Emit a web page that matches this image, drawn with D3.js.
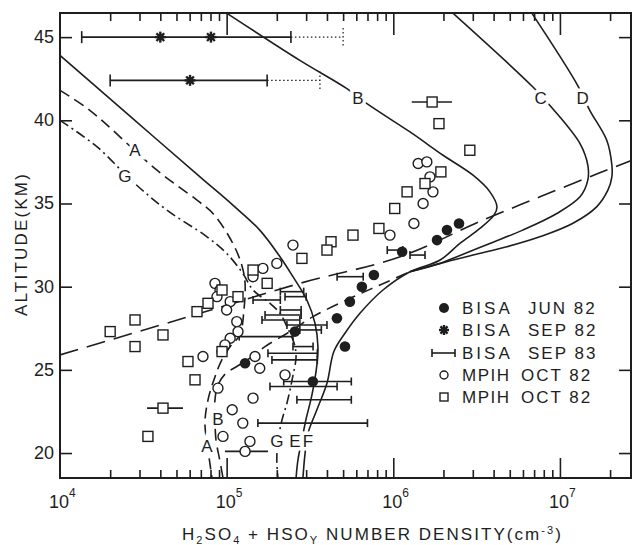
<!DOCTYPE html>
<html>
<head>
<meta charset="utf-8">
<script src="https://cdn.jsdelivr.net/npm/d3@7"></script>
<style>
body { margin: 0; background: #fff; }
svg text { font-family: "Liberation Sans", Arial, sans-serif; fill: #1e1e1e; }
</style>
</head>
<body>
<script>
// model profiles: [number density cm-3, altitude km]
var curveE = [[1e4,43.9],[2.63e4,40.25],[6.92e4,36.6],[1.09e5,34.9],[1.58e5,33.4],[2.09e5,31.8],
              [2.5e5,30.6],[3.03e5,29.2],[3.39e5,27.8],[3.53e5,26.4],[3.48e5,25.3],[3.25e5,23.5],
              [2.99e5,22.0],[2.83e5,20.8],[2.68e5,19.6],[2.61e5,18.5]];
var curveF = [[1.26e6,30.9],[8.67e5,29.8],[6.31e5,28.4],[5.13e5,27.2],[4.4e5,26.1],[4.0e5,24.2],
              [3.48e5,22.6],[3.08e5,21.2],[2.95e5,19.9],[2.87e5,18.5]];
var curveB = [[1.0e5,46.44],[2.75e5,43.6],[5.27e5,41.9],[6.95e5,41.0],[1.26e6,39.3],[1.99e6,37.9],
              [3.01e6,36.7],[3.8e6,35.7],[4.19e6,34.8],[4.02e6,34.3],[3.31e6,33.5],[2.51e6,32.6],
              [1.91e6,31.6]];
var curveC = [[2.28e6,46.44],[6.89e6,42.0],[9.06e6,40.7],[1.32e7,38.6],[1.47e7,37.3],[1.47e7,36.4],
              [1.32e7,35.4],[9.58e6,34.4],[5.98e6,33.4],[3.8e6,32.6],[2.41e6,31.8],[1.91e6,31.4]];
var curveD = [[6.78e6,46.44],[1.26e7,42.2],[1.51e7,40.6],[1.91e7,38.8],[2.05e7,37.3],[2.05e7,36.6],
              [1.94e7,35.8],[1.66e7,34.8],[1.19e7,33.8],[7.57e6,33.0],[4.8e6,32.4],[3.01e6,31.9],
              [1.91e6,31.4]];
var curveA = [[1e4,41.8],[1.51e4,40.6],[3.82e4,37.0],[6.64e4,35.2],[8.28e4,34.4],[1.09e5,32.6],
              [1.24e5,31.2],[1.29e5,30.2],[1.27e5,28.6],[1.2e5,27.1],[1.05e5,26.4],[9.25e4,25.5],
              [8.39e4,24.4],[7.73e4,23.2],[7.41e4,21.8],[7.73e4,20.2],[8.17e4,18.5]];
var curveG = [[1e4,40.0],[1.67e4,38.4],[2.74e4,36.3],[4.38e4,34.6],[7.62e4,33.0],[1.0e5,32.0],
              [1.25e5,30.8],[1.44e5,29.8],[1.82e5,29.0],[2.09e5,28.4],[2.3e5,27.6],[2.54e5,26.6],
              [2.61e5,25.8],[2.47e5,24.4],[2.3e5,23.0],[2.15e5,22.0],[2.03e5,20.7],[2.0e5,19.6],[2.03e5,18.5]];
var dashUpper = [[1e4,25.9],[6.92e4,28.4],[2.75e5,30.2],[1.1e6,31.8],[3.45e6,34.0],[7.59e6,35.4],
                 [1.69e7,36.8],[2.7e7,37.6]];
var dashLower = [[9.51e4,18.5],[9.12e4,19.5],[8.63e4,20.8],[8.51e4,22.0],[8.51e4,23.2],[8.87e4,24.1],
                 [9.91e4,24.8],[1.15e5,25.2],[1.38e5,25.7],[1.7e5,26.4],[2.4e5,27.3],[3.3e5,28.2],
                 [5.5e5,29.3],[8.32e5,30.1],[1.26e6,30.9]];

var curveLabels = [["A",2.82e4,38.2],["G",2.45e4,36.6],["B",6.14e5,41.3],["C",7.67e6,41.3],["D",1.37e7,41.3],
                   ["A",7.62e4,20.4],["B",8.87e4,22.0],["G",2.0e5,20.7],["E",2.57e5,20.7],["F",3.08e5,20.7]];

// measurements
var bisaJun82 = [[1.29e5,25.4],[2.57e5,27.3],[3.29e5,24.3],[5.13e5,26.4],[4.59e5,28.1],[5.49e5,29.1],
                 [6.48e5,30.0],[7.65e5,30.7],[1.13e6,32.1],[1.83e6,32.8],[2.1e6,33.4],[2.48e6,33.8]];
// [altitude, value, low, high, dotted upper limit]
var bisaSep82 = [[45.0,4.0e4,1.35e4,2.43e5,5.0e5],[45.0,8.05e4,null,null,null],[42.4,6.03e4,2.0e4,1.75e5,3.63e5]];
// [altitude, low, high]
var bisaSep83 = [[32.2,9.2e5,1.14e6],[31.9,1.26e6,1.55e6],[30.6,4.6e5,6.6e5],[29.7,2.1e5,2.9e5],
                 [29.4,2.24e5,3.0e5],[29.2,1.44e5,2.1e5],[28.6,2.1e5,2.8e5],[28.3,1.7e5,2.8e5],
                 [28.0,1.63e5,2.75e5],[27.7,2.3e5,4.0e5],[27.4,2.75e5,3.7e5],[27.0,1.19e5,2.5e5],
                 [26.4,2.5e5,3.3e5],[26.0,1.77e5,3.5e5],[25.6,1.87e5,3.5e5],[24.3,2.2e5,5.6e5],
                 [24.0,1.82e5,4.6e5],[23.2,2.64e5,5.6e5],[21.8,1.54e5,7.0e5]];
var mpihCircles = [[1.41e6,37.4],[1.59e6,37.5],[1.66e6,36.6],[1.73e6,35.7],[1.51e6,35.0],[1.33e6,33.8],
                   [9.55e5,33.1],[2.5e5,32.5],[2.0e5,31.4],[1.65e5,31.1],[1.44e5,30.6],[8.51e4,30.2],
                   [9.12e4,29.8],[8.75e4,29.4],[1.05e5,29.1],[1.0e5,28.6],[1.15e5,27.9],[1.17e5,27.3],
                   [1.05e5,26.9],[9.77e4,26.5],[9.38e4,26.1],[7.21e4,25.8],[1.48e5,25.8],[1.58e5,25.1],
                   [2.24e5,24.7],[8.87e4,23.9],[1.44e5,23.3],[1.08e5,22.6],[1.25e5,21.8],[9.51e4,21.0],
                   [1.38e5,20.7],[1.29e5,20.1]];
var mpihCircleBars = [[20.1,9.77e4,1.77e5]];
var mpihSquares = [[1.71e6,41.1],[1.88e6,39.8],[2.88e6,38.2],[1.93e6,36.9],[1.55e6,36.2],[1.21e6,35.7],
                   [1.02e6,34.7],[8.2e5,33.5],[5.73e5,33.1],[4.23e5,32.7],[4.0e5,32.2],[2.83e5,31.7],
                   [1.44e5,31.0],[1.75e5,30.2],[1.17e5,29.4],[9.38e4,29.8],[7.73e4,29.0],[6.64e4,28.5],
                   [2.82e4,28.0],[2.0e4,27.3],[4.15e4,27.1],[2.82e4,26.4],[9.38e4,26.1],[5.86e4,25.5],
                   [6.46e4,24.4],[4.15e4,22.7],[3.37e4,21.0]];
var mpihSquareBars = [[41.1,1.29e6,2.25e6],[22.7,3.33e4,5.47e4]];

var legendItems = [["BISA","JUN 82"],["BISA","SEP 82"],["BISA","SEP 83"],["MPIH","OCT 82"],["MPIH","OCT 82"]];
var yTicks = [20,25,30,35,40,45];
var xMajor = [1e4,1e5,1e6,1e7];

var W = 632, H = 545;
var xMax = 2.67e7;
var x = d3.scaleLog().domain([1e4, xMax]).range([60, 631]);
var y = d3.scaleLinear().domain([18.5, 46.45]).range([478, 13]);
var ink = "#1e1e1e";

var svg = d3.select("body").append("svg").attr("width", W).attr("height", H);
svg.append("rect").attr("width", W).attr("height", H).attr("fill", "#fff");

svg.append("clipPath").attr("id", "plot")
   .append("rect").attr("x", 60).attr("y", 13).attr("width", 571).attr("height", 465);

var plot = svg.append("g").attr("clip-path", "url(#plot)");

var line = d3.line().x(function (d) { return x(d[0]); })
                    .y(function (d) { return y(d[1]); })
                    .curve(d3.curveCatmullRom);

function drawCurve(data, dash) {
  plot.append("path").attr("d", line(data)).attr("fill", "none")
      .attr("stroke", ink).attr("stroke-width", 1.6)
      .attr("stroke-dasharray", dash || null);
}

drawCurve(curveE);
drawCurve(curveB.concat(curveF));
drawCurve(curveC.concat([curveF[0]]));
drawCurve(curveD.concat([curveF[0]]));
drawCurve(curveA, "11,6");
drawCurve(curveG, "10,4,2,4");
drawCurve(dashUpper, "19,9");
drawCurve(dashLower, "12,7");

// curve labels with white halo to break the lines
plot.selectAll("text.lab").data(curveLabels).enter().append("text")
    .attr("class", "lab")
    .attr("x", function (d) { return x(d[1]); })
    .attr("y", function (d) { return y(d[2]); })
    .attr("text-anchor", "middle").attr("dominant-baseline", "central")
    .attr("font-size", 17)
    .attr("stroke", "#fff").attr("stroke-width", 7).attr("paint-order", "stroke")
    .text(function (d) { return d[0]; });

// error bars
function hbar(g, alt, lo, hi, cap, dotted) {
  var yy = y(alt);
  g.append("line").attr("x1", x(lo)).attr("x2", x(hi)).attr("y1", yy).attr("y2", yy)
   .attr("stroke", ink).attr("stroke-width", dotted ? 1.2 : 1.6)
   .attr("stroke-dasharray", dotted ? "1.5,2.5" : null);
  [lo, hi].forEach(function (v, i) {
    if (dotted && i == 0) return;
    g.append("line").attr("x1", x(v)).attr("x2", x(v)).attr("y1", yy - cap).attr("y2", yy + cap)
     .attr("stroke", ink).attr("stroke-width", dotted ? 1.2 : 1.6)
     .attr("stroke-dasharray", dotted ? "1.5,2.5" : null);
  });
}

bisaSep83.forEach(function (d) { hbar(plot, d[0], d[1], d[2], 4); });
mpihCircleBars.forEach(function (d) { hbar(plot, d[0], d[1], d[2], 0); });
mpihSquareBars.forEach(function (d) { hbar(plot, d[0], d[1], d[2], 0); });
bisaSep82.forEach(function (d) {
  if (d[2] == null) return;
  hbar(plot, d[0], d[2], d[3], 6);
  hbar(plot, d[0], d[3], d[4], 9, true);
});

function asterisk(g, cx, cy, r) {
  var a = g.append("g").attr("transform", "translate(" + cx + "," + cy + ")");
  for (var k = 0; k < 4; k++) {
    var ang = k * Math.PI / 4;
    a.append("line").attr("x1", -r * Math.cos(ang)).attr("y1", -r * Math.sin(ang))
     .attr("x2", r * Math.cos(ang)).attr("y2", r * Math.sin(ang))
     .attr("stroke", ink).attr("stroke-width", 2.4);
  }
  a.append("circle").attr("r", r * 0.6).attr("fill", ink);
}

bisaSep82.forEach(function (d) { asterisk(plot, x(d[1]), y(d[0]), 5.5); });

plot.selectAll("circle.jun").data(bisaJun82).enter().append("circle")
    .attr("class", "jun").attr("cx", function (d) { return x(d[0]); })
    .attr("cy", function (d) { return y(d[1]); }).attr("r", 5.3).attr("fill", ink);

plot.selectAll("circle.mpih").data(mpihCircles).enter().append("circle")
    .attr("class", "mpih").attr("cx", function (d) { return x(d[0]); })
    .attr("cy", function (d) { return y(d[1]); }).attr("r", 5)
    .attr("fill", "#fff").attr("stroke", ink).attr("stroke-width", 1.4);

plot.selectAll("rect.mpih").data(mpihSquares).enter().append("rect")
    .attr("class", "mpih").attr("x", function (d) { return x(d[0]) - 5; })
    .attr("y", function (d) { return y(d[1]) - 5; }).attr("width", 10).attr("height", 10)
    .attr("fill", "#fff").attr("stroke", ink).attr("stroke-width", 1.4);

// axes: ticks point inward
var minor = [];
[4,5,6,7].forEach(function (p) {
  for (var k = 2; k < 10; k++) { var v = k * Math.pow(10, p); if (v < xMax) minor.push(v); }
});

svg.append("g").attr("transform", "translate(0,478)")
   .call(d3.axisBottom(x).tickValues(minor).tickSize(-8).tickFormat(""));
svg.append("g").attr("transform", "translate(0,478)")
   .call(d3.axisBottom(x).tickValues(xMajor.slice(1)).tickSize(-20).tickFormat(""));
svg.append("g").attr("transform", "translate(0,13)")
   .call(d3.axisTop(x).tickValues(minor).tickSize(-8).tickFormat(""));
svg.append("g").attr("transform", "translate(0,13)")
   .call(d3.axisTop(x).tickValues(xMajor.slice(1)).tickSize(-22).tickFormat(""));
svg.append("g").attr("transform", "translate(60,0)")
   .call(d3.axisLeft(y).tickValues(yTicks).tickSize(-12).tickFormat(""));
svg.append("g").attr("transform", "translate(631,0)")
   .call(d3.axisRight(y).tickValues(yTicks).tickSize(-12).tickFormat(""));
svg.selectAll(".domain").remove();
svg.selectAll(".tick line").attr("stroke", ink).attr("stroke-width", 1.6);

svg.append("rect").attr("x", 60).attr("y", 13).attr("width", 571).attr("height", 465)
   .attr("fill", "none").attr("stroke", ink).attr("stroke-width", 2);

// tick labels
svg.selectAll("text.ylab").data(yTicks).enter().append("text")
   .attr("class", "ylab").attr("x", 54).attr("y", function (d) { return y(d); })
   .attr("text-anchor", "end").attr("dominant-baseline", "central")
   .attr("font-size", 18).text(function (d) { return d; });

var xl = svg.selectAll("g.xlab").data(xMajor).enter().append("g").attr("class", "xlab");
xl.append("text").attr("x", function (d) { return x(d) - 1; }).attr("y", 508)
  .attr("text-anchor", "middle").attr("font-size", 18).text("10");
xl.append("text").attr("x", function (d) { return x(d) + 9; }).attr("y", 497)
  .attr("font-size", 12).text(function (d) { return Math.round(Math.log10(d)); });

// axis titles
var xt = svg.append("text").attr("x", 182).attr("y", 540).attr("font-size", 17)
            .attr("letter-spacing", 2.05);
xt.append("tspan").text("H");
xt.append("tspan").attr("font-size", 11).attr("dy", 4).text("2");
xt.append("tspan").attr("dy", -4).text("SO");
xt.append("tspan").attr("font-size", 11).attr("dy", 4).text("4");
xt.append("tspan").attr("dy", -4).text(" + HSO");
xt.append("tspan").attr("font-size", 11).attr("dy", 4).text("Y");
xt.append("tspan").attr("dy", -4).text(" NUMBER DENSITY(cm");
xt.append("tspan").attr("font-size", 11).attr("dy", -6).text("-3");
xt.append("tspan").attr("dy", 6).text(")");

svg.append("text").attr("transform", "translate(27,244) rotate(-90)")
   .attr("text-anchor", "middle").attr("font-size", 17).attr("letter-spacing", 2.2)
   .text("ALTITUDE(KM)");

// legend
var legY = [308, 330, 353, 375, 397];
var leg = svg.append("g");
legendItems.forEach(function (d, i) {
  var cy = legY[i];
  if (i == 0) leg.append("circle").attr("cx", 444).attr("cy", cy).attr("r", 5).attr("fill", ink);
  if (i == 1) asterisk(leg, 444, cy, 5);
  if (i == 2) {
    leg.append("line").attr("x1", 432).attr("x2", 455).attr("y1", cy).attr("y2", cy)
       .attr("stroke", ink).attr("stroke-width", 1.6);
    [432, 455].forEach(function (px) {
      leg.append("line").attr("x1", px).attr("x2", px).attr("y1", cy - 4).attr("y2", cy + 4)
         .attr("stroke", ink).attr("stroke-width", 1.6);
    });
  }
  if (i == 3) leg.append("circle").attr("cx", 444).attr("cy", cy).attr("r", 4)
                 .attr("fill", "none").attr("stroke", ink).attr("stroke-width", 1.4);
  if (i == 4) leg.append("rect").attr("x", 440).attr("y", cy - 4).attr("width", 8).attr("height", 8)
                 .attr("fill", "none").attr("stroke", ink).attr("stroke-width", 1.4);
  leg.append("text").attr("x", 462).attr("y", cy).attr("dominant-baseline", "central")
     .attr("font-size", 17).attr("letter-spacing", i < 3 ? 3 : 1.5).text(d[0]);
  leg.append("text").attr("x", i < 3 ? 528 : 521).attr("y", cy).attr("dominant-baseline", "central")
     .attr("font-size", 17).attr("letter-spacing", 2).text(d[1]);
});
</script>
</body>
</html>
